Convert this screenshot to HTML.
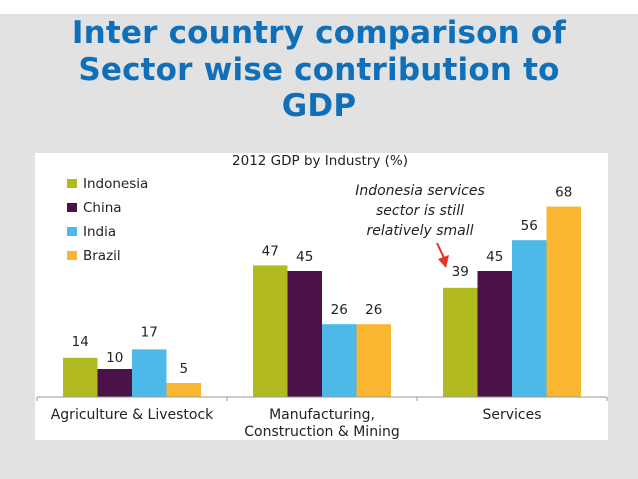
<!DOCTYPE html>
<html><head><meta charset="utf-8"><style>
body{margin:0;width:638px;height:479px;overflow:hidden;background:#e2e2e2;font-family:"DejaVu Sans","Liberation Sans",sans-serif;position:relative}
#top{position:absolute;left:0;top:0;width:638px;height:14px;background:#fff}
#title{position:absolute;left:0;top:15px;width:638px;text-align:center;color:#0f6fb8;font-weight:bold;font-size:31px;line-height:36.5px;letter-spacing:0.2px}
#panel{position:absolute;left:35px;top:153px;width:573px;height:287px;background:#fff}
svg{position:absolute;left:0;top:0}
</style></head><body>
<div id="top"></div>
<div id="title">Inter country comparison of<br>Sector wise contribution to<br>GDP</div>
<div id="panel"></div>
<svg id="chart" width="638" height="479"></svg>
<script>
const categories=["Agriculture & Livestock","Manufacturing,|Construction & Mining","Services"];
const seriesNames=["Indonesia","China","India","Brazil"];
const indonesia=[14,47,39];
const china=[10,45,45];
const india=[17,26,56];
const brazil=[5,26,68];
const series=[indonesia,china,india,brazil];
const colors=["#b1bb1f","#4a1247","#4db9e9","#fbb631"];
const NS="http://www.w3.org/2000/svg";
const svg=document.getElementById('chart');
const baseY=397, pxPer=2.8, groupW=190, left=37, barW=34.5;
function x(ci,si){return left+groupW*ci+26+barW*si;}
function y(v){return baseY-v*pxPer;}
function mk(t,a){const e=document.createElementNS(NS,t);for(const k in a)e.setAttribute(k,a[k]);svg.appendChild(e);return e;}
let t=mk('text',{x:320,y:165,'text-anchor':'middle','font-size':13.5,fill:'#222'});t.textContent="2012 GDP by Industry (%)";


series.forEach((s,si)=>{
  const ly=188+si*24;
  let r=mk('rect',{x:67,y:ly-9,width:10,height:9,fill:colors[si]});
  
  
  let lt=mk('text',{x:83,y:ly,'font-size':13.5,fill:'#222'});lt.textContent=seriesNames[si];
  
  
  s.forEach((v,ci)=>{
    let b=mk('rect',{x:x(ci,si),y:y(v),width:barW,height:v*pxPer,fill:colors[si]});
    
    
    let dy=-10;
    if(ci==0&&si==0)dy=-12;
    if(ci==0&&si==1)dy=-7;
    if(ci==0&&si==2)dy=-13;
    if(ci==2&&si==0)dy=-12;
    let vl=mk('text',{x:x(ci,si)+barW/2,y:y(v)+dy,'text-anchor':'middle','font-size':13.5,fill:'#222'});vl.textContent=v;
    
    
  });
});
let ax=mk('line',{x1:left,y1:baseY,x2:left+groupW*3,y2:baseY,stroke:'#999','stroke-width':1});


for(let i=0;i<=3;i++){let tk=mk('line',{x1:left+groupW*i,y1:baseY,x2:left+groupW*i,y2:baseY+4,stroke:'#999'});

}
categories.forEach((c,ci)=>{
  c.split('|').forEach((ln,li)=>{
    let ct=mk('text',{x:left+groupW*ci+groupW/2,y:419+li*17,'text-anchor':'middle','font-size':14,fill:'#222'});ct.textContent=ln;
    
    
  });
});
["Indonesia services","sector is still","relatively small"].forEach((ln,i)=>{
  let a=mk('text',{x:420,y:195+i*20,'text-anchor':'middle','font-size':14,'font-style':'italic',fill:'#222'});a.textContent=ln;
  
  
});
let ar=mk('line',{x1:437,y1:243,x2:444,y2:258,stroke:'#e53325','stroke-width':2});


let ah=mk('polygon',{points:'438,259 449,255 446,268',fill:'#e53325'});


</script>
</body></html>
